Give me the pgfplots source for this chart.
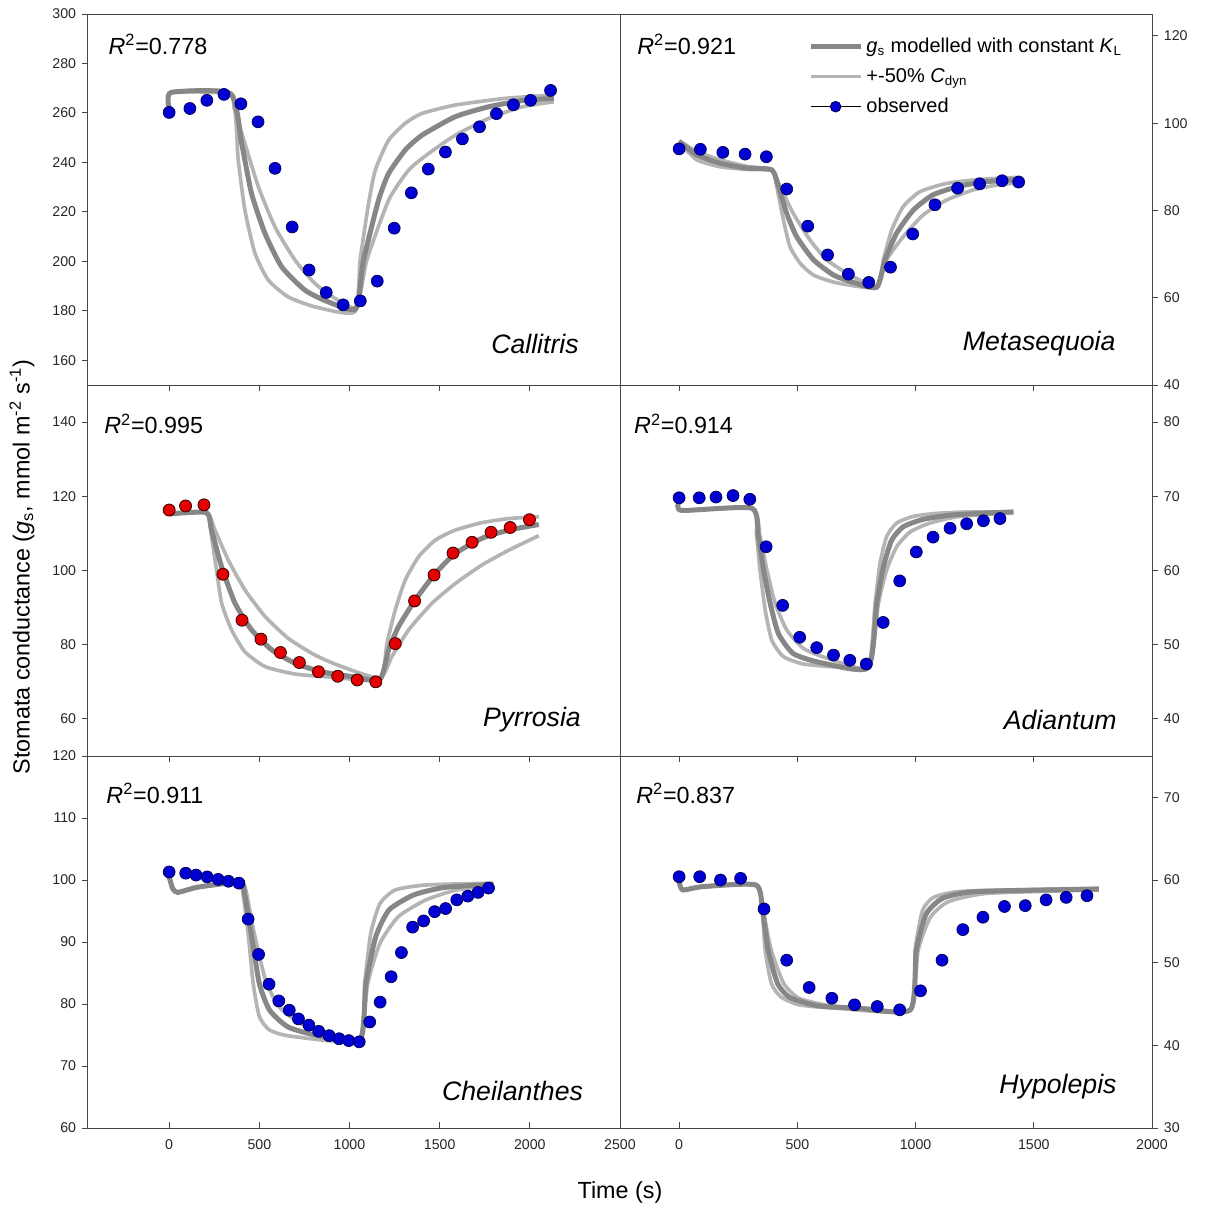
\documentclass[border=0pt]{standalone}
\usepackage{fontspec}
\setmainfont{Liberation Sans}
\usepackage{pgfplots}
\pgfplotsset{compat=1.18}
\definecolor{darkc}{RGB}{135,135,135}
\definecolor{lightc}{RGB}{180,180,180}
\definecolor{obsblue}{RGB}{0,0,210}
\definecolor{obsred}{RGB}{228,0,0}
\definecolor{axc}{RGB}{70,70,70}
\tikzset{
  rlab/.style={anchor=west, inner sep=0pt, font=\fontsize{14}{16}\selectfont},
  slab/.style={anchor=east, inner sep=0pt, font=\fontsize{16}{18}\selectfont\itshape},
}
\pgfplotsset{
  panel/.style={scale only axis, width=319.2pt, height=222.6pt, anchor=south west,
    axis line style={axc, line width=0.6pt}, tick style={axc, line width=0.6pt},
    major tick length=3.6pt, tick align=outside, xtick pos=bottom,
    ticklabel style={font=\fontsize{8.5}{10}\selectfont, text=black!85},
    /pgf/number format/assume math mode=true, /pgf/number format/1000 sep={},
    minor tick num=0},
  leftcol/.style={xmin=-450, xmax=2500, xtick={0,500,...,2500}, ytick pos=left, yticklabel pos=left},
  rightcol/.style={xmin=-250, xmax=2000, xtick={0,500,...,2000}, ytick pos=right, yticklabel pos=right},
  upper/.style={xticklabels={}},
  lower/.style={height=223.2pt, xtick style={yshift=3.6pt}},
  light/.style={lightc, line width=2.2pt, smooth, tension=0.35, no marks, forget plot},
  dark/.style={darkc, line width=3pt, smooth, tension=0.35, no marks, forget plot},
  obs/.style={only marks, mark=*, mark size=3.6pt, forget plot,
    mark options={fill=obsblue, draw={rgb,255:red,0;green,0;blue,80}, line width=0.4pt}},
  obsr/.style={only marks, mark=*, mark size=3.6pt, forget plot,
    mark options={fill=obsred, draw={rgb,255:red,60;green,0;blue,0}, line width=0.5pt}},
}
\begin{document}
\begin{tikzpicture}
\useasboundingbox (0,0) rectangle (723.6pt,-726.6pt);

% ---------------- Panel 1: Callitris
\begin{axis}[panel, leftcol, upper, at={(52.8pt,-231pt)}, ymin=150, ymax=300, ytick={160,180,...,300}]
\addplot[light] coordinates {(0,262) (12,268.3) (340,267.8) (383,240.9) (420,220.7) (476,203.2) (550,192.4) (661,185.6) (809,181.6) (1030,179.6) (1059,200.5) (1106,223.4) (1143,236.9) (1217,249.0) (1309,255.8) (1402,259.8) (1587,263.2) (1865,265.9) (2133,267.2)};
\addplot[light] coordinates {(0,262) (12,268.3) (340,267.8) (360,262) (420,247.7) (495,230.1) (587,213.9) (698,200.5) (809,191) (920,185) (1040,181.4) (1096,200.5) (1217,224.7) (1328,236.9) (1439,243.6) (1587,251) (1772,257.8) (1958,262.5) (2133,264.5)};
\addplot[dark] coordinates {(0,262) (12,268.3) (340,267.8) (402,247.7) (457,227.4) (532,211.2) (624,197.8) (754,188.3) (883,183.6) (1035,180.8) (1078,200.5) (1161,224.7) (1217,235.5) (1309,245) (1402,251) (1587,258.5) (1772,262.5) (1958,265) (2133,265.9)};
\addplot[obs] coordinates {(0,260.2) (115,261.8) (209,265.1) (304,267.5) (398,263.7) (493,256.4) (587,237.6) (682,213.9) (776,196.5) (871,187.4) (965,182.4) (1060,184.0) (1154,192.0) (1248,213.4) (1343,227.7) (1437,237.3) (1532,244.2) (1626,249.5) (1721,254.4) (1815,259.7) (1909,263.3) (2004,265.1) (2115,269.1)};
\node[rlab] at (rel axis cs:0.038,0.919) {\textit{R}\textsuperscript{2}=0.778};
\node[slab] at (rel axis cs:0.923,0.111) {Callitris};
\end{axis}

% ---------------- Panel 2: Metasequoia
\begin{axis}[panel, rightcol, upper, at={(372pt,-231pt)}, ymin=40, ymax=125, ytick={40,60,...,120},
  legend style={draw=none, fill=none, at={(0.353,0.945)}, anchor=north west,
    font=\fontsize{12}{14}\selectfont, row sep=4pt, inner sep=0pt},
  legend cell align=left,
  legend image code/.code={\draw[mark repeat=2,mark phase=2,#1] plot coordinates {(0pt,0pt) (15pt,0pt) (30pt,0pt)};}]
\addlegendimage{darkc, line width=3pt}
\addlegendentry{\textit{g}\textsubscript{s} modelled with constant \textit{K}\textsubscript{L}}
\addlegendimage{lightc, line width=2.2pt}
\addlegendentry{+-50\% \textit{C}\textsubscript{dyn}}
\addlegendimage{black, line width=0.5pt, mark=*, mark size=3.2pt, mark options={fill=obsblue, draw={rgb,255:red,0;green,0;blue,80}}}
\addlegendentry{observed}
\addplot[light] coordinates {(0,96) (75,93.5) (174,91.6) (286,90.1) (392,89.3) (413,85.5) (441,77.8) (469,71.7) (512,67.9) (568,65.2) (667,63.4) (836,62.4) (864,68.7) (899,75.5) (948,80.9) (1019,84.3) (1132,86.2) (1273,87.1) (1442,87.6)};
\addplot[light] coordinates {(0,95.5) (75,91.6) (174,90.0) (286,89.4) (392,89.1) (427,85.5) (483,79.3) (554,73.2) (624,68.7) (723,65.2) (836,62.6) (878,68.7) (948,74.0) (1033,79.0) (1132,82.4) (1244,84.7) (1343,85.8) (1442,86.4)};
\addplot[dark] coordinates {(0,95.8) (75,92.7) (174,90.8) (286,89.7) (392,89.3) (420,85.5) (455,79.3) (497,74.0) (568,68.7) (653,65.2) (737,63.5) (836,62.4) (871,68.7) (920,74.8) (991,80.1) (1075,83.6) (1188,85.6) (1301,86.6) (1442,87.1)};
\addplot[obs] coordinates {(0,94.1) (90,94.0) (185,93.3) (279,92.9) (369,92.3) (455,84.9) (544,76.4) (628,69.8) (716,65.4) (802,63.5) (894,67.0) (988,74.6) (1082,81.3) (1178,85.1) (1271,86.1) (1366,86.8) (1436,86.5)};
\node[rlab] at (rel axis cs:0.032,0.919) {\textit{R}\textsuperscript{2}=0.921};
\node[slab] at (rel axis cs:0.932,0.111) {Metasequoia};
\end{axis}

% ---------------- Panel 3: Pyrrosia
\begin{axis}[panel, leftcol, upper, at={(52.8pt,-453.6pt)}, ymin=50, ymax=150, ytick={60,80,...,140}]
\addplot[light] coordinates {(0,114.9) (13,115.3) (207,115.6) (235,109.1) (263,100.1) (291,91.2) (346,84.0) (420,78.1) (532,74.1) (698,72.1) (920,71.2) (1168,70.6) (1208,80.4) (1254,89.4) (1309,97.4) (1383,103.7) (1476,108.2) (1587,110.9) (1735,112.9) (1884,114.0) (2050,114.5)};
\addplot[light] coordinates {(0,114.9) (13,115.3) (207,115.6) (254,110.9) (328,102.8) (420,94.8) (532,87.6) (661,81.7) (809,77.2) (957,74.1) (1168,71.0) (1235,76.8) (1328,84.0) (1458,91.2) (1587,96.5) (1735,101.5) (1884,105.5) (2050,109.4)};
\addplot[dark] coordinates {(0,114.9) (13,115.3) (207,115.6) (235,110.9) (291,101.0) (365,91.2) (457,84.0) (569,78.6) (698,75.0) (846,72.7) (1013,71.4) (1168,70.6) (1217,78.6) (1272,84.9) (1365,92.1) (1476,99.2) (1587,104.6) (1735,108.7) (1884,110.9) (2050,112.4)};
\addplot[obsr] coordinates {(0,116.3) (91,117.4) (193,117.7) (298,99.0) (404,86.6) (509,81.5) (617,77.9) (722,75.2) (828,72.7) (935,71.5) (1043,70.5) (1146,70.0) (1254,80.3) (1361,91.8) (1469,98.8) (1574,104.7) (1680,107.6) (1785,110.3) (1891,111.6) (1998,113.7)};
\node[rlab] at (rel axis cs:0.030,0.895) {\textit{R}\textsuperscript{2}=0.995};
\node[slab] at (rel axis cs:0.927,0.097) {Pyrrosia};
\end{axis}

% ---------------- Panel 4: Adiantum
\begin{axis}[panel, rightcol, upper, at={(372pt,-453.6pt)}, ymin=35, ymax=85, ytick={40,50,...,80}]
\addplot[light] coordinates {(0,69.3) (11,68.1) (307,68.4) (328,64.6) (342,60.1) (364,54.7) (392,50.6) (441,48.4) (526,47.4) (667,47.0) (800,46.9) (829,55.6) (850,61.0) (878,64.6) (920,66.4) (991,67.3) (1089,67.7) (1230,67.9) (1414,67.9)};
\addplot[light] coordinates {(0,69.3) (11,68.1) (307,68.4) (342,64.6) (371,60.1) (406,55.6) (455,52.0) (526,49.5) (624,48.2) (800,47.0) (843,55.6) (878,60.1) (920,63.2) (977,65.2) (1061,66.4) (1188,67.3) (1414,67.8)};
\addplot[dark] coordinates {(0,69.3) (11,68.1) (307,68.4) (335,64.6) (357,60.1) (385,55.6) (420,51.5) (483,48.8) (596,47.6) (800,46.9) (836,55.6) (864,60.5) (899,64.1) (948,65.9) (1033,66.9) (1160,67.5) (1414,67.9)};
\addplot[obs] coordinates {(0,69.8) (85,69.8) (156,69.9) (228,70.1) (299,69.6) (368,63.2) (438,55.3) (510,51.0) (582,49.6) (653,48.6) (722,47.9) (792,47.4) (863,53.0) (933,58.6) (1003,62.5) (1074,64.5) (1146,65.7) (1216,66.3) (1287,66.7) (1357,67.0)};
\node[rlab] at (rel axis cs:0.026,0.895) {\textit{R}\textsuperscript{2}=0.914};
\node[slab] at (rel axis cs:0.934,0.097) {Adiantum};
\end{axis}

% ---------------- Panel 5: Cheilanthes
\begin{axis}[panel, leftcol, lower, at={(52.8pt,-676.8pt)}, ymin=60, ymax=120, ytick={60,70,...,120}]
\addplot[light] coordinates {(0,100.5) (20,98.6) (47,98.0) (150,98.8) (270,99.3) (387,99.7) (404,98.9) (438,91.4) (466,83.3) (500,78.0) (557,75.8) (676,74.8) (1058,74.2) (1084,83.3) (1118,91.4) (1169,96.2) (1254,98.4) (1424,99.2) (1798,99.5)};
\addplot[light] coordinates {(0,100.5) (20,98.6) (47,98.0) (150,98.8) (270,99.3) (387,99.7) (421,98.9) (472,91.4) (534,83.9) (608,79.6) (727,76.9) (880,75.3) (1058,74.3) (1101,83.3) (1169,89.8) (1271,94.1) (1424,96.8) (1594,98.4) (1798,99.2)};
\addplot[dark] coordinates {(0,100.5) (20,98.6) (47,98.0) (150,98.8) (270,99.3) (387,99.7) (411,98.9) (455,91.4) (500,83.3) (557,79.0) (659,76.3) (812,75.0) (1058,74.2) (1091,83.3) (1146,90.9) (1220,95.2) (1356,97.6) (1526,98.8) (1798,99.3)};
\addplot[obs] coordinates {(0,101.3) (92,101.1) (149,100.8) (211,100.5) (272,100.1) (329,99.8) (387,99.5) (438,93.7) (496,88.0) (554,83.2) (608,80.5) (666,79.0) (717,77.6) (775,76.6) (829,75.6) (887,74.9) (942,74.4) (996,74.1) (1054,73.9) (1112,77.1) (1170,80.3) (1231,84.4) (1288,88.3) (1350,92.4) (1411,93.4) (1472,94.9) (1533,95.4) (1595,96.8) (1656,97.4) (1713,98.0) (1771,98.7)};
\node[rlab] at (rel axis cs:0.034,0.900) {\textit{R}\textsuperscript{2}=0.911};
\node[slab] at (rel axis cs:0.931,0.099) {Cheilanthes};
\end{axis}

% ---------------- Panel 6: Hypolepis
\begin{axis}[panel, rightcol, lower, at={(372pt,-676.8pt)}, ymin=30, ymax=75, ytick={30,40,...,70}]
\addplot[light] coordinates {(0,59.8) (15,58.8) (100,59.2) (325,59.4) (351,56.3) (364,51.5) (390,47.5) (429,45.9) (507,44.9) (662,44.5) (978,44.3) (998,51.5) (1029,56.3) (1076,57.9) (1179,58.6) (1386,58.8) (1775,59.0)};
\addplot[light] coordinates {(0,59.8) (15,58.8) (100,59.2) (325,59.4) (355,56.3) (390,51.5) (442,47.5) (507,45.7) (636,44.8) (800,44.5) (978,44.3) (1011,51.5) (1063,55.5) (1140,57.4) (1309,58.4) (1775,58.8)};
\addplot[dark] coordinates {(0,59.8) (15,58.8) (100,59.2) (325,59.4) (353,56.3) (377,51.5) (416,47.5) (468,45.8) (584,44.8) (750,44.5) (978,44.3) (1003,51.5) (1045,55.9) (1115,57.8) (1257,58.6) (1775,58.9)};
\addplot[obs] coordinates {(0,60.4) (87,60.4) (175,60.0) (260,60.2) (359,56.5) (455,50.3) (550,47.0) (646,45.7) (742,44.9) (838,44.7) (933,44.3) (1021,46.6) (1112,50.3) (1200,54.0) (1285,55.5) (1376,56.8) (1464,56.9) (1552,57.6) (1637,57.9) (1725,58.1)};
\node[rlab] at (rel axis cs:0.030,0.900) {\textit{R}\textsuperscript{2}=0.837};
\node[slab] at (rel axis cs:0.934,0.110) {Hypolepis};
\end{axis}

\node[rotate=90, font=\fontsize{14}{16}\selectfont] at (13.2pt,-340.2pt) {Stomata conductance (\textit{g}\textsubscript{s}, mmol m\textsuperscript{-2} s\textsuperscript{-1})};
\node[font=\fontsize{14}{16}\selectfont] at (372pt,-715.2pt) {Time (s)};
\end{tikzpicture}
\end{document}
